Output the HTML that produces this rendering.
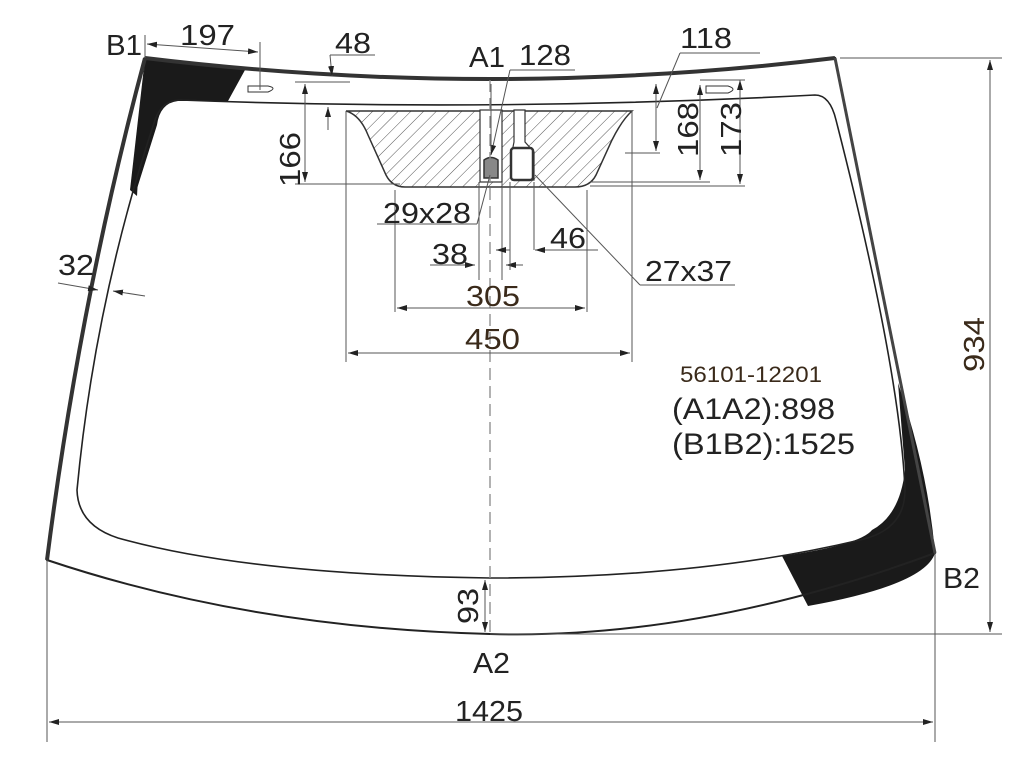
<!DOCTYPE html>
<html><head><meta charset="utf-8"><style>
html,body{margin:0;padding:0;background:#fff;}
svg{display:block;font-family:"Liberation Sans",Arial,sans-serif;}
</style></head><body>
<svg width="1024" height="770" viewBox="0 0 1024 770" xmlns="http://www.w3.org/2000/svg">
<defs>
<pattern id="h" width="9" height="9" patternUnits="userSpaceOnUse" patternTransform="rotate(45)">
<line x1="0" y1="0" x2="0" y2="9" stroke="#555" stroke-width="1"/></pattern>
<marker id="a" markerWidth="10" markerHeight="6" refX="10" refY="3" orient="auto-start-reverse" markerUnits="userSpaceOnUse"><path d="M0,0 L10,3 L0,6 z" fill="#222"/></marker>
</defs>
<path d="M145,58 L245,70 L228,101 L178,101 Q160,103 157,125 L135,195 L145,58 Z" fill="#1a1a1a"/>
<path d="M145,58 L130,190 L137,196 Z" fill="#1a1a1a"/>
<path d="M898,383 Q928,470 935,553 Q925,585 808,606 L782,556 Q860,545 872,530 Q900,515 905,470 Z" fill="#1a1a1a"/>
<path d="M145,58 Q490,100 835,58 Q900,380 935,553 Q700,640 490,634 Q250,628 47,560 Q80,300 145,58 Z" fill="none" stroke="#222" stroke-width="2"/>
<path d="M145,58 Q490,100 835,58" fill="none" stroke="#333" stroke-width="4"/>
<path d="M145,58 Q80,300 47,560" fill="none" stroke="#333" stroke-width="4"/>
<path d="M835,58 Q900,380 935,553" fill="none" stroke="#444" stroke-width="3"/>
<path d="M180,100 Q490,112 815,95 Q830,95 836,120 Q900,370 905,490 Q905,530 860,540 Q700,578 490,578 Q250,575 118,538 Q78,525 77,490 Q95,300 155,120 Q162,100 180,100 Z" fill="none" stroke="#222" stroke-width="1.6"/>
<path d="M346,111 L632,111 Q622,120 612,140 L596,175 Q590,187 575,187 L405,187 Q392,187 386,175 L368,135 Q360,115 346,111 Z" fill="url(#h)" stroke="#333" stroke-width="1.5"/>
<rect x="480" y="110" width="22" height="72" fill="#fff" stroke="#333" stroke-width="1.2"/>
<path d="M514,110 L525,110 L525,142 L534,152 L534,180 L512,180 L512,152 L514,142 Z" fill="#fff" stroke="#333" stroke-width="1.2"/>
<path d="M484,160 Q491,155 498,160 L498,178 L484,178 Z" fill="#888" stroke="#333" stroke-width="1.5"/>
<rect x="511" y="148" width="22" height="32" rx="3" fill="#fff" stroke="#333" stroke-width="2.5"/>
<path d="M248,86 L268,86 Q278,88 268,92 L248,92 Z" fill="#fff" stroke="#333"/>
<path d="M706,86 L728,86 Q738,89 728,93 L706,93 Z" fill="#fff" stroke="#333"/>
<line x1="490" y1="80" x2="490" y2="634" stroke="#888" stroke-width="1.3" stroke-dasharray="12,6"/>
<g stroke="#555" stroke-width="1" fill="none">
<line x1="47" y1="560" x2="47" y2="742"/><line x1="935" y1="553" x2="935" y2="742"/>
<line x1="49" y1="722" x2="933" y2="722" marker-start="url(#a)" marker-end="url(#a)"/>
<line x1="840" y1="58" x2="1002" y2="58"/><line x1="490" y1="634" x2="1002" y2="634"/>
<line x1="990" y1="60" x2="990" y2="632" marker-start="url(#a)" marker-end="url(#a)"/>
<line x1="145" y1="35" x2="145" y2="58"/><line x1="260" y1="42" x2="260" y2="90"/>
<line x1="147" y1="44" x2="258" y2="52" marker-start="url(#a)" marker-end="url(#a)"/>
<line x1="330" y1="55" x2="375" y2="55"/><line x1="330" y1="55" x2="332" y2="76" marker-end="url(#a)"/>
<line x1="328" y1="130" x2="328" y2="107" marker-end="url(#a)"/>
<line x1="295" y1="82" x2="350" y2="82"/><line x1="295" y1="184" x2="400" y2="184"/>
<line x1="305" y1="84" x2="305" y2="182" marker-start="url(#a)" marker-end="url(#a)"/>
<line x1="510" y1="70" x2="575" y2="70"/><line x1="510" y1="70" x2="491" y2="155" marker-end="url(#a)"/>
<line x1="491" y1="84" x2="491" y2="150"/>
<line x1="680" y1="53" x2="760" y2="53"/><line x1="680" y1="53" x2="657" y2="108"/>
<line x1="625" y1="153" x2="660" y2="153"/>
<line x1="656" y1="84" x2="656" y2="151" marker-start="url(#a)" marker-end="url(#a)"/>
<line x1="590" y1="182" x2="710" y2="182"/><line x1="590" y1="186" x2="745" y2="186"/>
<line x1="700" y1="85" x2="700" y2="180" marker-start="url(#a)" marker-end="url(#a)"/>
<line x1="740" y1="80" x2="740" y2="184" marker-start="url(#a)" marker-end="url(#a)"/>
<line x1="700" y1="80" x2="745" y2="80"/>
<line x1="377" y1="224" x2="477" y2="224"/><line x1="477" y1="224" x2="490" y2="175"/>
<line x1="430" y1="265" x2="475" y2="265" marker-end="url(#a)"/><line x1="506" y1="265" x2="523" y2="265" marker-start="url(#a)"/>
<line x1="479" y1="182" x2="479" y2="280"/><line x1="502" y1="182" x2="502" y2="280"/>
<line x1="496" y1="250" x2="510" y2="250" marker-start="url(#a)"/>
<line x1="510" y1="182" x2="510" y2="270"/><line x1="534" y1="182" x2="534" y2="250"/>
<line x1="535" y1="250" x2="598" y2="250" marker-start="url(#a)"/>
<line x1="535" y1="175" x2="640" y2="285"/><line x1="640" y1="285" x2="735" y2="285"/>
<line x1="395" y1="190" x2="395" y2="312"/><line x1="587" y1="190" x2="587" y2="312"/>
<line x1="397" y1="308" x2="585" y2="308" marker-start="url(#a)" marker-end="url(#a)"/>
<line x1="346" y1="111" x2="346" y2="362"/><line x1="632" y1="111" x2="632" y2="362"/>
<line x1="348" y1="353" x2="630" y2="353" marker-start="url(#a)" marker-end="url(#a)"/>
<line x1="58" y1="283" x2="98" y2="290" marker-end="url(#a)"/><line x1="145" y1="296" x2="113" y2="291" marker-end="url(#a)"/>
<line x1="485" y1="580" x2="485" y2="632" marker-start="url(#a)" marker-end="url(#a)"/>
</g>
<g fill="#222" font-size="29">
<text x="106" y="55" textLength="36" lengthAdjust="spacingAndGlyphs">B1</text>
<text x="180" y="45" textLength="55" lengthAdjust="spacingAndGlyphs">197</text>
<text x="335" y="53" textLength="36" lengthAdjust="spacingAndGlyphs">48</text>
<text x="469" y="67" textLength="36" lengthAdjust="spacingAndGlyphs">A1</text>
<text x="519" y="65" textLength="52" lengthAdjust="spacingAndGlyphs">128</text>
<text x="680" y="48" textLength="52" lengthAdjust="spacingAndGlyphs">118</text>
<text x="383" y="223" textLength="88" lengthAdjust="spacingAndGlyphs">29x28</text>
<text x="432" y="264" textLength="36" lengthAdjust="spacingAndGlyphs">38</text>
<text x="550" y="248" textLength="36" lengthAdjust="spacingAndGlyphs">46</text>
<text x="645" y="281" textLength="87" lengthAdjust="spacingAndGlyphs">27x37</text>
<text x="466" y="306" fill="#3a2a1a" textLength="54" lengthAdjust="spacingAndGlyphs">305</text>
<text x="465" y="349" fill="#3a2a1a" textLength="55" lengthAdjust="spacingAndGlyphs">450</text>
<text x="58" y="275" textLength="36" lengthAdjust="spacingAndGlyphs">32</text>
<text x="943" y="588" textLength="37" lengthAdjust="spacingAndGlyphs">B2</text>
<text x="473" y="673" textLength="37" lengthAdjust="spacingAndGlyphs">A2</text>
<text x="455" y="721" textLength="68" lengthAdjust="spacingAndGlyphs">1425</text>
<text transform="translate(300,187) rotate(-90)" textLength="55" lengthAdjust="spacingAndGlyphs">166</text>
<text transform="translate(698,157) rotate(-90)" textLength="55" lengthAdjust="spacingAndGlyphs">168</text>
<text transform="translate(741,157) rotate(-90)" textLength="55" lengthAdjust="spacingAndGlyphs">173</text>
<text transform="translate(984,372) rotate(-90)" fill="#3a2a1a" textLength="55" lengthAdjust="spacingAndGlyphs">934</text>
<text transform="translate(478,624) rotate(-90)" textLength="36" lengthAdjust="spacingAndGlyphs">93</text>
<text x="680" y="382" font-size="22" fill="#3a2a1a" textLength="142" lengthAdjust="spacingAndGlyphs">56101-12201</text>
<text x="672" y="419" font-size="30" textLength="163" lengthAdjust="spacingAndGlyphs">(A1A2):898</text>
<text x="672" y="454" font-size="30" textLength="183" lengthAdjust="spacingAndGlyphs">(B1B2):1525</text>
</g>
</svg>
</body></html>
